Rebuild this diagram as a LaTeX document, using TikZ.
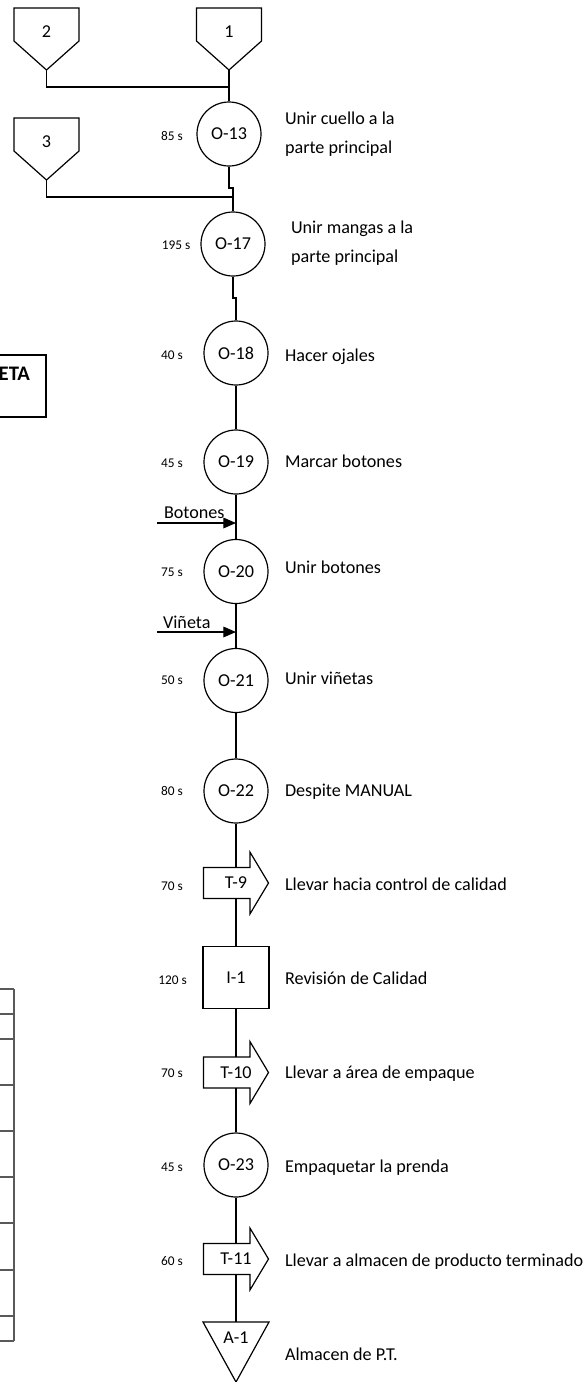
\documentclass[tikz,border=0pt]{standalone}
\usepackage{fontspec}
\setmainfont{Carlito}
\usetikzlibrary{arrows.meta}
\newcommand{\entrada}[1]{%
	\draw ([shift={(-32.5,-24)}]#1.center) -- ([shift={(32.5,-24)}]#1.center) -- ([shift={(32.5,9)}]#1.center) -- ([shift={(0,38)}]#1.center) coordinate (#1-v) -- ([shift={(-32.5,9)}]#1.center) -- cycle;}
\newcommand{\almacen}[1]{%
	\draw ([shift={(-33,-16)}]#1.center) -- ([shift={(33,-16)}]#1.center) -- ([shift={(0,44)}]#1.center) -- cycle;
	\coordinate (#1-t) at ([shift={(0,-16)}]#1.center);}
\newcommand{\flecha}[1]{%
	\draw (#1.north west) -- ([xshift=-13.9pt]#1.north east) -- ([xshift=-13.9pt,yshift=11.6pt]#1.north east) -- (#1.east) -- ([xshift=-13.9pt,yshift=-11.6pt]#1.south east) -- ([xshift=-13.9pt]#1.south east) -- (#1.south west) -- cycle;}
\begin{document}
\begin{tikzpicture}[x=0.75pt,y=-0.75pt,line width=0.9pt,>={Triangle[length=9.5pt,width=8pt]},font=\fontsize{13.6}{16}\selectfont,
		oper/.style={circle,draw,minimum size=48pt,inner sep=0pt},
		insp/.style={rectangle,draw,minimum width=49.5pt,minimum height=47pt,inner sep=0pt},
		transp/.style={rectangle,minimum width=48.75pt,minimum height=23.25pt,inner sep=0pt,outer sep=0pt},
		tiempo/.style={anchor=base,font=\fontsize{10}{12}\selectfont},
		desc/.style={anchor=base west}]
	\useasboundingbox (0,0) rectangle (587,1382);
	\clip (0,0) rectangle (587,1382);
	% entradas de material
	\node (e1) at (229,32) {1}; \entrada{e1}
	\node (e2) at (46.5,32) {2}; \entrada{e2}
	\node (e3) at (46.5,142) {3}; \entrada{e3}
	% actividades
	\node[oper] (o13) at (229,134) {O-13};
	\node[oper] (o17) at (233,244) {O-17};
	\node[oper] (o18) at (236,353) {O-18};
	\node[oper] (o19) at (236,462) {O-19};
	\node[oper] (o20) at (236,571.5) {O-20};
	\node[oper] (o21) at (236,680.5) {O-21};
	\node[oper] (o22) at (236,791) {O-22};
	\node[transp] (t9) at (236,883) {T-9}; \flecha{t9}
	\node[insp] (i1) at (236,977.5) {I-1};
	\node[transp] (t10) at (236,1072.5) {T-10}; \flecha{t10}
	\node[oper] (o23) at (236,1165) {O-23};
	\node[transp] (t11) at (236,1259) {T-11}; \flecha{t11}
	\node (a1) at (236,1338) {A-1}; \almacen{a1}
	% uniones
	\coordinate (u1) at (229,87);
	\coordinate (u2) at (233,197);
	\coordinate (q1) at (229,188);
	\coordinate (q2) at (233,298);
	\draw (e1-v) -- (o13);
	\draw (e2-v) |- (u1);
	\draw (o13) -- (q1) -- (q1 -| o17) -- (o17);
	\draw (e3-v) |- (u2);
	\draw (o17) -- (q2) -- (q2 -| o18) -- (o18);
	\foreach \a/\b in {o18/o19,o19/o20,o20/o21,o21/o22,o22/t9,t9/i1,i1/t10,t10/o23,o23/t11}
		\draw (\a) -- (\b);
	\draw (t11) -- (a1-t);
	% botones y vinetas
	\coordinate (m1) at (157,523);
	\coordinate (m2) at (157,632);
	\draw[->] (m1) -- (m1 -| o20);
	\draw[->] (m2) -- (m2 -| o21);
	\node[anchor=base west] (mb) at (159,518) {Botones};
	\node[anchor=base west] (mv) at (158,628) {Viñeta};
	% descripciones
	\node[desc] (d13a) at (280,124.5) {Unir cuello a la};
	\node[desc] (d13b) at (280,153.5) {parte principal};
	\node[desc] (d17a) at (286,233.3) {Unir mangas a la};
	\node[desc] (d17b) at (286,262.5) {parte principal};
	\node[desc] (d18) at (280,361) {Hacer ojales};
	\node[desc] (d19) at (280,467.3) {Marcar botones};
	\node[desc] (d20) at (280,573) {Unir botones};
	\node[desc] (d21) at (280,684) {Unir viñetas};
	\node[desc] (d22) at (280,796) {Despite MANUAL};
	\node[desc] (d9) at (280,890.7) {Llevar hacia control de calidad};
	\node[desc] (di1) at (280,984.3) {Revisión de Calidad};
	\node[desc] (d10) at (280,1078.3) {Llevar a área de empaque};
	\node[desc] (d23) at (280,1172.7) {Empaquetar la prenda};
	\node[desc] (d11) at (280,1266.7) {Llevar a almacen de producto terminado};
	\node[desc] (da1) at (280,1360) {Almacen de P.T.};
	% tiempos
	\node[tiempo] (s13) at (172,140.7) {85 s};
	\node[tiempo] (s17) at (176,249.3) {195 s};
	\node[tiempo] (s18) at (172,359) {40 s};
	\node[tiempo] (s19) at (172,467) {45 s};
	\node[tiempo] (s20) at (172,576.5) {75 s};
	\node[tiempo] (s21) at (172,684) {50 s};
	\node[tiempo] (s22) at (172,795) {80 s};
	\node[tiempo] (s9) at (172,890.7) {70 s};
	\node[tiempo] (si1) at (172.5,984) {120 s};
	\node[tiempo] (s10) at (172,1077) {70 s};
	\node[tiempo] (s23) at (172,1171.7) {45 s};
	\node[tiempo] (s11) at (172,1265) {60 s};
	% recuadro y tabla de la izquierda
	\draw (-30,355) rectangle (46,417);
	\node[anchor=base east,font=\fontsize{15.5}{18}\selectfont\bfseries] (eta) at (35,380) {ETA};
	\foreach \y in {989,1014,1039,1085,1131,1177,1223,1270,1316,1341}
		\draw[black!65] (-5,\y) -- (14,\y);
	\draw[black!65] (14,989) -- (14,1341);
\end{tikzpicture}
\end{document}
